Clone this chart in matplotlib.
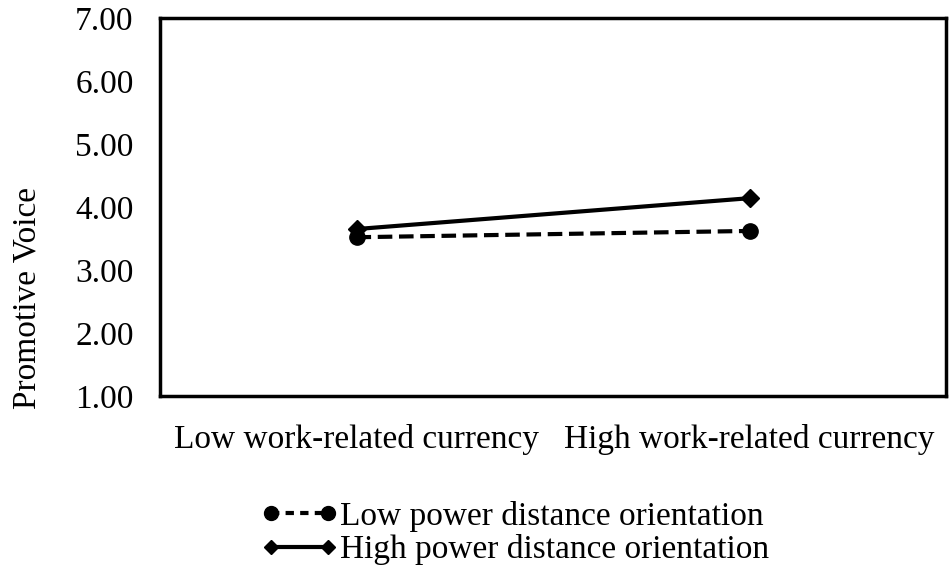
import matplotlib.pyplot as plt
from matplotlib.lines import Line2D

# Datos
categorias = ['Low work-related currency', 'High work-related currency']
pdo_bajo = [3.52, 3.62]
pdo_alto = [3.65, 4.14]
ticks_y = [1, 2, 3, 4, 5, 6, 7]

plt.rcParams['font.family'] = ['Liberation Serif', 'DejaVu Serif']

fig = plt.figure(figsize=(9.5, 5.73), dpi=100)
ax = fig.add_axes([160 / 950, 1 - 396 / 573, 786 / 950, 378 / 573])

x = [0, 1]
ax.plot(x, pdo_bajo, color='black', linestyle=(0, (3.5, 1.6)), linewidth=3,
        marker='o', markersize=11, label='Low power distance orientation')
ax.plot(x, pdo_alto, color='black', linestyle='-', linewidth=3,
        marker='D', markersize=9, label='High power distance orientation')

ax.set_xlim(-0.5, 1.5)
ax.set_ylim(1, 7)
ax.set_yticks(ticks_y)
ax.set_yticklabels([f'{v:.2f}' for v in ticks_y])
ax.set_xticks(x)
ax.set_xticklabels(categorias)
ax.tick_params(length=0, labelsize=24, pad=20)
ax.tick_params(axis='y', pad=19)
ax.set_ylabel('Promotive Voice', fontsize=24)
ax.yaxis.set_label_coords(-0.150, 0.26)

for s in ax.spines.values():
    s.set_linewidth(2.5)

handles = [
    Line2D([], [], color='black', linestyle=(0, (2, 1.5)), linewidth=3, marker='o', markersize=10),
    Line2D([], [], color='black', linestyle='-', linewidth=3, marker='D', markersize=7),
]
fig.legend(handles, [l.get_label() for l in ax.get_lines()], loc='center',
           bbox_to_anchor=(515 / 950, 1 - 533 / 573), frameon=False, fontsize=24,
           handlelength=2.3, handletextpad=0.05, labelspacing=0.08, borderpad=0,
           numpoints=2)

fig.savefig('out.png', dpi=100)
